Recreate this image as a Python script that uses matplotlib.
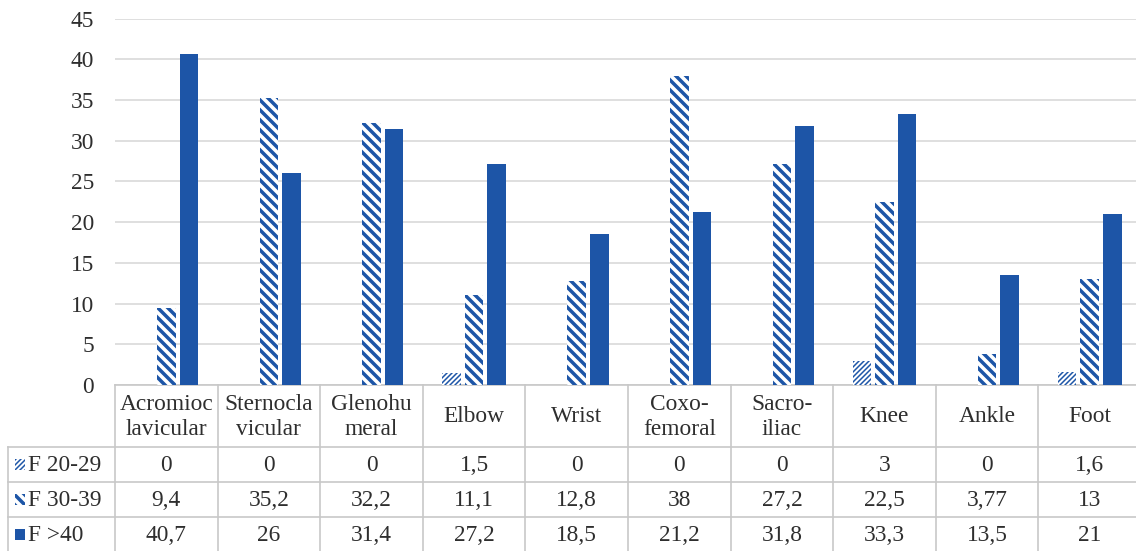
import matplotlib
matplotlib.use("Agg")
import matplotlib.pyplot as plt
from matplotlib.patches import Rectangle
from matplotlib.lines import Line2D
from matplotlib.transforms import blended_transform_factory
import numpy as np

# ---- data -------------------------------------------------------------
categories = ["Acromioc\nlavicular", "Sternocla\nvicular", "Glenohu\nmeral", "Elbow",
              "Wrist", "Coxo-\nfemoral", "Sacro-\niliac", "Knee", "Ankle", "Foot"]
series_names = ["F 20-29", "F 30-39", "F >40"]
f20_29 = [0, 0, 0, 1.5, 0, 0, 0, 3, 0, 1.6]
f30_39 = [9.4, 35.2, 32.2, 11.1, 12.8, 38, 27.2, 22.5, 3.77, 13]
f_over40 = [40.7, 26, 31.4, 27.2, 18.5, 21.2, 31.8, 33.3, 13.5, 21]
y_ticks = [0, 5, 10, 15, 20, 25, 30, 35, 40, 45]

# ---- style ------------------------------------------------------------
BLUE = "#1D55A7"
TEXT = "#2E2E2E"
GRID = "#D9D9D9"
BORDER = "#C8C8C8"
FONT = "Liberation Serif"
FS = 14
BACK = chr(92)  # backslash hatch character

plt.rcParams["font.family"] = [FONT, "DejaVu Serif"]

W, H, DPI = 1136, 551, 120
fig = plt.figure(figsize=(W / DPI, H / DPI), dpi=DPI)
fig.patch.set_facecolor("white")

# plot area in pixel layout
ax_left, ax_top, ax_bottom, col_w = 115, 18.6, 385, 102.6
ax = fig.add_axes([ax_left / W, (H - ax_bottom) / H,
                   10 * col_w / W, (ax_bottom - ax_top) / H])

x = np.arange(len(categories))
bw, off = 0.18, 0.22

series_styles = [
    dict(hatch="/" * 8, hlw=0.9),
    dict(hatch=BACK * 4, hlw=2.1),
    dict(hatch=None, hlw=1.0),
]
series_values = [f20_29, f30_39, f_over40]


def styled_bars(xpos, vals, style):
    with plt.rc_context({"hatch.linewidth": style["hlw"]}):
        if style["hatch"] is None:
            bars = ax.bar(xpos, vals, bw, color=BLUE, linewidth=0, zorder=3)
        else:
            bars = ax.bar(xpos, vals, bw, facecolor="white", edgecolor=BLUE,
                          linewidth=0, hatch=style["hatch"], zorder=3)
    for b in bars:
        if hasattr(b, "set_hatch_linewidth"):
            b.set_hatch_linewidth(style["hlw"])
    return bars


for k, (vals, st) in enumerate(zip(series_values, series_styles)):
    styled_bars(x + (k - 1) * off, vals, st)

ax.set_xlim(-0.5, len(categories) - 0.5)
ax.set_ylim(0, 45)
ax.set_yticks(y_ticks)
ax.set_yticklabels([str(t) for t in y_ticks], fontsize=FS, color=TEXT)
ax.tick_params(axis="y", length=0, pad=12.5)
ax.set_xticks([])
ax.yaxis.grid(True, color=GRID, linewidth=1.0, zorder=0)
ax.set_axisbelow(True)
for side in ("left", "right", "top"):
    ax.spines[side].set_visible(False)
ax.spines["bottom"].set_color(BORDER)
ax.spines["bottom"].set_linewidth(1.0)

# ---- data table under the plot ------------------------------------------
tr = blended_transform_factory(ax.transData, fig.transFigure)


def fy(py):
    return (H - py) / H


header_bottom = 447
row_h = 35
row_tops = [header_bottom + i * row_h for i in range(len(series_names))]
table_bottom = header_bottom + row_h * len(series_names)
label_left = 8

# vertical borders between category columns
for i in range(len(categories) + 1):
    fig.add_artist(Line2D([i - 0.5, i - 0.5], [fy(ax_bottom), fy(table_bottom)],
                          transform=tr, color=BORDER, linewidth=1.0, clip_on=False))
# left border of the label column
fig.add_artist(Line2D([label_left / W, label_left / W], [fy(header_bottom), fy(table_bottom)],
                      transform=fig.transFigure, color=BORDER, linewidth=1.0))
# horizontal row borders
for py in row_tops + [table_bottom]:
    fig.add_artist(Line2D([label_left / W, 1.0], [fy(py), fy(py)],
                          transform=fig.transFigure, color=BORDER, linewidth=1.0))

# header (category names)
for i, name in enumerate(categories):
    fig.text(i, fy((ax_bottom + header_bottom) / 2 + 1), name, transform=tr,
             ha="center", va="center", fontsize=FS, color=TEXT, linespacing=1.3)


def fmt(v):
    return f"{v:g}".replace(".", ",")


# series rows: legend key, label and values
for r, (name, vals, st) in enumerate(zip(series_names, series_values, series_styles)):
    cy = row_tops[r] + row_h / 2
    with plt.rc_context({"hatch.linewidth": st["hlw"]}):
        if st["hatch"] is None:
            key = Rectangle((15 / W, fy(cy + 5.5)), 10 / W, 11 / H,
                            transform=fig.transFigure, facecolor=BLUE, linewidth=0)
        else:
            key = Rectangle((15 / W, fy(cy + 5.5)), 10 / W, 11 / H,
                            transform=fig.transFigure, facecolor="white",
                            edgecolor=BLUE, linewidth=0, hatch=st["hatch"])
    if hasattr(key, "set_hatch_linewidth"):
        key.set_hatch_linewidth(st["hlw"])
    fig.add_artist(key)
    fig.text(28 / W, fy(cy + 1), name, ha="left", va="center", fontsize=FS, color=TEXT)
    for i, v in enumerate(vals):
        fig.text(i, fy(cy + 1), fmt(v), transform=tr, ha="center", va="center",
                 fontsize=FS, color=TEXT)

fig.savefig("out.png", dpi=DPI)
